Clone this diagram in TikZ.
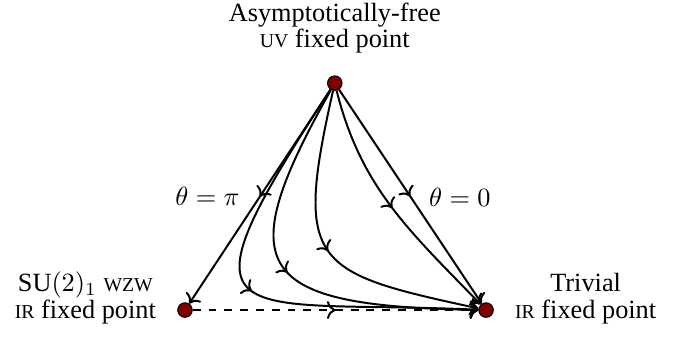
\documentclass[tikz,border=0pt]{standalone}
\usepackage{fontspec}
\setmainfont{Liberation Serif}
\usetikzlibrary{arrows.meta,decorations.markings}
\definecolor{fpred}{RGB}{128,0,0}
\newcommand{\smc}[1]{{\fontsize{7.5pt}{10pt}\selectfont #1}}

\begin{document}
\begin{tikzpicture}[
  fp/.style={draw, circle, fill=fpred, minimum size=5.5pt, inner sep=0pt, line width=0.4pt},
  lbl/.style={align=center, font={\fontsize{10pt}{10pt}\selectfont}},
  flow/.style={line width=0.75pt, ->, postaction={decorate},
    decoration={markings, mark=at position 0.5 with {\arrow{>}}}}]
\useasboundingbox (-2.47,-0.44) rectangle (6.77,4.14);
\node[fp] (UV) at (2,3.03) {};
\node[fp] (WZW) at (0,0) {};
\node[fp] (TR) at (4.02,0) {};
\node[lbl] (uvlbl) at (2,3.77) {Asymptotically-free\\ \smc{UV} fixed point};
\node[lbl] (wzwlbl) at (-1.33,0.16) {SU$(2)_1$ \smc{WZW}\\ \smc{IR} fixed point};
\node[lbl] (trlbl) at (5.35,0.15) {Trivial\\ \smc{IR} fixed point};
\node (pilbl) at (0.30,1.52) {$\theta=\pi$};
\node (zerolbl) at (3.67,1.50) {$\theta=0$};
\draw[flow] (UV) -- (WZW);
\draw[flow] (UV) -- (TR);
\draw[flow, dashed] (WZW) -- (TR);
\draw[flow] (UV) .. controls (-0.25,-0.4) and (0.6,0.15) .. (TR);
\draw[flow] (UV) .. controls (0.6,0.55) and (0.9,0.05) .. (TR);
\draw[flow] (UV) .. controls (1.45,0.6) and (1.7,0.5) .. (TR);
\draw[flow] (UV) to[out=-76, in=134] (TR);
\end{tikzpicture}
\end{document}
